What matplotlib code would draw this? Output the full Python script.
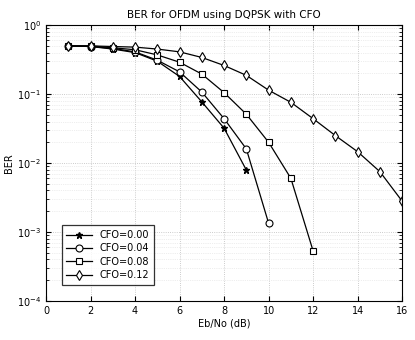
import matplotlib
matplotlib.use("Agg")
import matplotlib.pyplot as plt
import numpy as np

ebno_0 = [1, 2, 3, 4, 5, 6, 7, 8, 9]
ber_000 = [0.5, 0.49, 0.45, 0.40, 0.30, 0.18, 0.077, 0.032, 0.0079]
ebno_1 = [1, 2, 3, 4, 5, 6, 7, 8, 9, 10]
ber_004 = [0.5, 0.49, 0.46, 0.41, 0.31, 0.21, 0.107, 0.044, 0.016, 0.00134]
ebno_2 = [1, 2, 3, 4, 5, 6, 7, 8, 9, 10, 11, 12]
ber_008 = [0.5, 0.5, 0.47, 0.44, 0.37, 0.29, 0.195, 0.105, 0.051, 0.020, 0.006, 0.00053]
ebno_3 = [1, 2, 3, 4, 5, 6, 7, 8, 9, 10, 11, 12, 13, 14, 15, 16]
ber_012 = [0.5, 0.5, 0.49, 0.48, 0.45, 0.41, 0.34, 0.26, 0.187, 0.114, 0.076, 0.044, 0.025, 0.0146, 0.0075, 0.0028]
labels = ["CFO=0.00", "CFO=0.04", "CFO=0.08", "CFO=0.12"]

fig = plt.figure(figsize=(4.15, 3.4), dpi=100)
ax = fig.add_axes([0.111, 0.115, 0.858, 0.811])
kw = dict(color="black", lw=0.9, mfc="white", mec="black", mew=0.8)
ax.semilogy(ebno_0, ber_000, marker="*", ms=5, label=labels[0], color="black", lw=0.9, mfc="black", mec="black")
ax.semilogy(ebno_1, ber_004, marker="o", ms=5, label=labels[1], **kw)
ax.semilogy(ebno_2, ber_008, marker="s", ms=4.5, label=labels[2], **kw)
ax.semilogy(ebno_3, ber_012, marker="d", ms=5.5, label=labels[3], **kw)

ax.set_xlim(0, 16)
ax.set_ylim(1e-4, 1)
ax.set_xticks(range(0, 17, 2))
ax.grid(True, which="major", ls=":", color="#bbbbbb", lw=0.6)
ax.grid(True, which="minor", axis="y", ls=":", color="#dddddd", lw=0.5)
ax.tick_params(labelsize=7, direction="in", which="both", top=True, right=True)
ax.set_xlabel("Eb/No (dB)", fontsize=7, labelpad=2)
ax.set_ylabel("BER", fontsize=7, labelpad=2)
ax.set_title("BER for OFDM using DQPSK with CFO", fontsize=7.5, pad=5)
leg = ax.legend(loc="lower left", fontsize=7, frameon=True, fancybox=False,
                edgecolor="black", bbox_to_anchor=(0.03, 0.04), handlelength=2.6,
                borderpad=0.5, labelspacing=0.35)
leg.get_frame().set_linewidth(0.9)
fig.savefig("out.png", dpi=100)
